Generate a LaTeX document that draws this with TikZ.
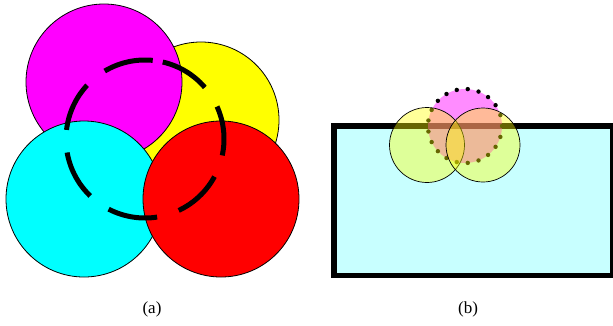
\documentclass[tikz,border=0pt]{standalone}
\usepackage{fontspec}
\setmainfont{Liberation Serif}
\definecolor{mg}{RGB}{255,0,255}
\definecolor{yl}{RGB}{255,255,0}
\definecolor{cn}{RGB}{0,255,255}
\definecolor{rd}{RGB}{255,0,0}
\definecolor{lcyan}{RGB}{200,255,255}
\begin{document}
\begin{tikzpicture}[x=1pt,y=-1pt,
  disc/.style={draw=black,line width=0.8pt},
  transdisc/.style={draw=black,line width=0.7pt,fill=yl,fill opacity=0.4,draw opacity=1},
  lbl/.style={font=\fontsize{17}{19}\selectfont,inner sep=0pt}]
\clip (0,0) rectangle (613,325);
\useasboundingbox (0,0) rectangle (613,325);
\fill[white] (0,0) rectangle (613,325);
% panel (a)
\coordinate (cy) at (201,120);
\coordinate (cm) at (104,82);
\coordinate (cc) at (84,199);
\coordinate (cr) at (221,199);
\coordinate (cd) at (145,139);
\draw[disc,fill=yl] (cy) circle[radius=78];
\draw[disc,fill=mg] (cm) circle[radius=78];
\draw[disc,fill=cn] (cc) circle[radius=78];
\draw[disc,fill=rd] (cr) circle[radius=78];
\draw[line width=5pt,dash pattern=on 50pt off 22.7pt]
  (cd) ++(-77:79) arc[start angle=-77,end angle=283,radius=79];
% panel (b)
\draw[line width=5.5pt,fill=lcyan] (334,126) rectangle (613,275.5);
\coordinate (cp) at (465,126);
\fill[mg,opacity=0.45] (cp) circle[radius=37];
\foreach \k in {0,...,20}
  \fill[black] (cp) ++({\k*360/21}:37) circle[radius=2.2];
\coordinate (cl) at (427,145);
\coordinate (cq) at (483,145);
\draw[transdisc] (cl) circle[radius=37.5];
\draw[transdisc] (cq) circle[radius=37];
\node[lbl] (la) at (152,309) {(a)};
\node[lbl] (lb) at (468,309) {(b)};
\end{tikzpicture}
\end{document}
